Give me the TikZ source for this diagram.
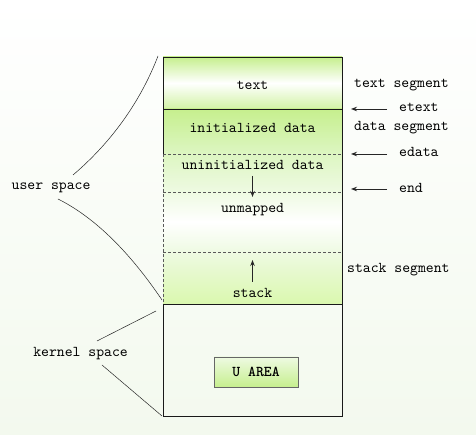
\documentclass[tikz,border=0pt]{standalone}
\usepackage{fontspec}
\newfontfamily\cour{lmmono10-regular}[Extension=.otf, BoldFont=lmmonolt10-bold]
\usetikzlibrary{arrows.meta}
\definecolor{gA}{HTML}{C6EF8E}
\definecolor{gB}{HTML}{DDF6C2}
\definecolor{gC}{HTML}{EEFAE2}
\definecolor{gD}{HTML}{DAF8AE}
\definecolor{bgB}{HTML}{F3F9EE}
\begin{document}
\begin{tikzpicture}[x=1pt,y=1pt,
  lbl/.style={font=\cour\fontsize{15}{17}\selectfont, inner sep=0pt},
  llbl/.style={lbl, anchor=west},
  outline/.style={draw=black!90, line width=0.9pt},
  dashline/.style={draw=black!65, line width=0.8pt, dash pattern=on 3pt off 2pt},
  ptr/.style={draw=black!85, line width=0.9pt, -{Stealth[length=6pt,width=4.5pt]}},
  lead/.style={draw=black!85, line width=0.5pt}]
% background
\shade[top color=white, bottom color=bgB] (0,0) rectangle (476,435);
\useasboundingbox (0,0) rectangle (476,435);
% fills
\shade[top color=gA, bottom color=gA!80!white, middle color=white] (163,378) rectangle (342,326);
\shade[top color=gA, bottom color=gB] (163,326) rectangle (342,281);
\shade[top color=gB, bottom color=gC] (163,281) rectangle (342,243);
\shade[top color=gC, bottom color=white] (163,243) rectangle (342,213);
\shade[top color=white, bottom color=gC] (163,213) rectangle (342,183);
\shade[top color=gC, bottom color=gD] (163,183) rectangle (342,131);
% coordinates
\coordinate (tl) at (163,378);
\coordinate (tr) at (342,378);
\coordinate (el) at (163,326);
\coordinate (er) at (342,326);
\coordinate (dl) at (163,281);
\coordinate (dr) at (342,281);
\coordinate (nl) at (163,243);
\coordinate (nr) at (342,243);
\coordinate (sl) at (163,183);
\coordinate (sr) at (342,183);
\coordinate (bl) at (163,131);
\coordinate (br) at (342,131);
\coordinate (kl) at (163,19);
\coordinate (kr) at (342,19);
% dashed lines
\draw[dashline] (dl) -- (dr);
\draw[dashline] (nl) -- (nr);
\draw[dashline] (sl) -- (sr);
\draw[dashline] (dl) -- (bl);
% outlines
\draw[outline] (dl) -- (tl) -- (tr) -- (kr) -- (kl) -- (bl) -- (br);
\draw[outline] (el) -- (er);
% section texts
\node[lbl] (ttext) at (252.5,350) {text};
\node[lbl] (tinit) at (252.5,307) {initialized data};
\node[lbl] (tuninit) at (252.5,270) {uninitialized data};
\node[lbl] (tunmap) at (252.5,225) {unmapped};
\node[lbl] (tstack) at (252.5,142) {stack};
\coordinate (da1) at (252.5,259);
\coordinate (da2) at (252.5,238);
\coordinate (ua1) at (252.5,153);
\coordinate (ua2) at (252.5,175);
\draw[ptr] (da1) -- (da2);
\draw[ptr] (ua1) -- (ua2);
% U AREA
\node[draw=black!60, line width=0.9pt, top color=gC, bottom color=gA, minimum width=84pt, minimum height=30pt, inner sep=0pt, font=\cour\bfseries\fontsize{15}{17}\selectfont] (uarea) at (256,63) {U AREA};
% right labels
\node[llbl] (tseg) at (354,350) {text segment};
\node[llbl] (dseg) at (354,307) {data segment};
\node[llbl] (sseg) at (347,165) {stack segment};
\node[llbl] (etext) at (399,328) {etext};
\node[llbl] (edata) at (399,283) {edata};
\node[llbl] (endl) at (399,247) {end};
\coordinate (a1s) at (387,326); \coordinate (a1e) at (351,326);
\coordinate (a2s) at (387,281); \coordinate (a2e) at (351,281);
\coordinate (a3s) at (387,246); \coordinate (a3e) at (351,246);
\draw[ptr] (a1s) -- (a1e);
\draw[ptr] (a2s) -- (a2e);
\draw[ptr] (a3s) -- (a3e);
% left labels
\node[lbl] (user) at (51,247) {user space};
\node[lbl] (kernel) at (80.5,81) {kernel space};
\coordinate (u1) at (73,260);
\coordinate (u2) at (158,379);
\coordinate (u3) at (58,236);
\coordinate (u4) at (162,135);
\draw[lead] (u1) .. controls (120,300) and (145,345) .. (u2);
\draw[lead] (u3) .. controls (100,215) and (135,175) .. (u4);
\coordinate (k1) at (97,94);
\coordinate (k2) at (156,124);
\coordinate (k3) at (102,70);
\coordinate (k4) at (162,19);
\draw[lead] (k1) -- (k2);
\draw[lead] (k3) -- (k4);
\end{tikzpicture}
\end{document}
